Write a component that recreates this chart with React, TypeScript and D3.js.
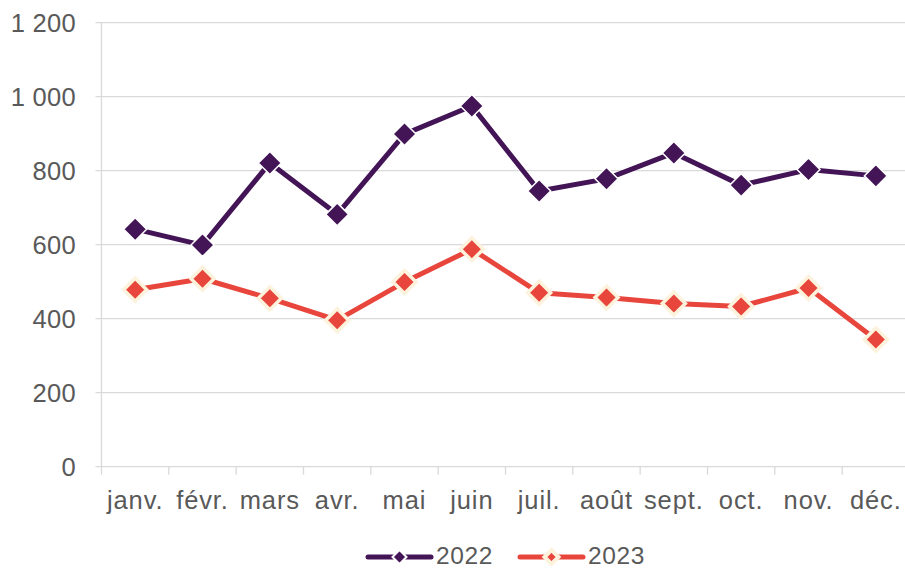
import React, { useEffect, useRef } from 'react';
import * as d3 from 'd3';

const months = ['janv.', 'févr.', 'mars', 'avr.', 'mai', 'juin', 'juil.', 'août', 'sept.', 'oct.', 'nov.', 'déc.'];
const values2022 = [642, 599, 821, 682, 899, 975, 745, 778, 848, 761, 803, 786];
const values2023 = [478, 508, 455, 396, 499, 588, 470, 457, 441, 433, 483, 344];
const yTicks = [0, 200, 400, 600, 800, 1000, 1200];
const seriesNames = ['2022', '2023'];

const W = 905;
const H = 569;

const App = () => {
    const ref = useRef<SVGSVGElement>(null);

    useEffect(() => {
        const svg = d3.select(ref.current);
        svg.selectAll('*').remove();

        const left = 101.5;
        const right = 909.5;
        const top = 22.7;
        const bottom = 466.7;
        const font = 'Arial, "Liberation Sans", sans-serif';
        const textColor = '#595959';
        const gridColor = '#d9d9d9';

        const x = d3.scaleBand().domain(months).range([left, right]);
        const y = d3.scaleLinear().domain([0, 1200]).range([bottom, top]);
        const cx = (m: string) => (x(m) as number) + x.bandwidth() / 2;

        const fmt = (v: number) => d3.format(',')(v).replace(/,/g, ' ');

        // grid
        svg.append('g')
            .selectAll('line')
            .data(yTicks.filter(t => t > 0))
            .enter().append('line')
            .attr('x1', left - 6)
            .attr('x2', W)
            .attr('y1', d => y(d))
            .attr('y2', d => y(d))
            .attr('stroke', gridColor)
            .attr('stroke-width', 1.3);

        // axes
        svg.append('line')
            .attr('x1', left).attr('x2', left)
            .attr('y1', top).attr('y2', bottom)
            .attr('stroke', gridColor).attr('stroke-width', 1.3);
        svg.append('line')
            .attr('x1', left - 6).attr('x2', W)
            .attr('y1', bottom).attr('y2', bottom)
            .attr('stroke', gridColor).attr('stroke-width', 1.3);

        svg.append('g')
            .selectAll('text')
            .data(yTicks)
            .enter().append('text')
            .attr('x', 76)
            .attr('y', d => y(d))
            .attr('dy', '0.36em')
            .attr('text-anchor', 'end')
            .attr('font-family', font)
            .attr('font-size', 25.5)
            .attr('letter-spacing', 0.3)
            .attr('fill', textColor)
            .text(d => fmt(d));

        // x ticks
        svg.append('g')
            .selectAll('line')
            .data(months)
            .enter().append('line')
            .attr('x1', d => x(d) as number)
            .attr('x2', d => x(d) as number)
            .attr('y1', bottom)
            .attr('y2', bottom + 8)
            .attr('stroke', gridColor)
            .attr('stroke-width', 1.3);

        svg.append('g')
            .selectAll('text')
            .data(months)
            .enter().append('text')
            .attr('x', d => cx(d))
            .attr('y', 509)
            .attr('text-anchor', 'middle')
            .attr('font-family', font)
            .attr('font-size', 25.5)
            .attr('letter-spacing', 0.9)
            .attr('fill', textColor)
            .text(d => d);

        const series = [
            { name: seriesNames[0], values: values2022, color: '#431556', outline: '#ffffff', ow: 1.5 },
            { name: seriesNames[1], values: values2023, color: '#e8463c', outline: '#fdf2dc', ow: 3.5 },
        ];

        const diamond = (px: number, py: number, r: number) =>
            `M${px},${py - r}L${px + r},${py}L${px},${py + r}L${px - r},${py}Z`;

        series.forEach(s => {
            const pts = months.map((m, i) => [cx(m), y(s.values[i])] as [number, number]);
            svg.append('path')
                .datum(pts)
                .attr('fill', 'none')
                .attr('stroke', s.color)
                .attr('stroke-width', 5)
                .attr('stroke-linejoin', 'round')
                .attr('d', d3.line());
            svg.append('g')
                .selectAll('path')
                .data(pts)
                .enter().append('path')
                .attr('d', d => diamond(d[0], d[1], 11.5))
                .attr('fill', s.color)
                .attr('stroke', s.outline)
                .attr('stroke-width', s.ow);
        });

        // legend
        const legendY = 557;
        const legendX = [368, 520];
        series.forEach((s, i) => {
            const lx = legendX[i];
            const g = svg.append('g');
            g.append('line')
                .attr('x1', lx).attr('x2', lx + 63)
                .attr('y1', legendY).attr('y2', legendY)
                .attr('stroke', s.color)
                .attr('stroke-width', 5)
                .attr('stroke-linecap', 'round');
            g.append('path')
                .attr('d', diamond(lx + 31.5, legendY, 7))
                .attr('fill', s.color)
                .attr('stroke', s.outline)
                .attr('stroke-width', s.ow + 0.5);
            g.append('text')
                .attr('x', lx + 68)
                .attr('y', 564)
                .attr('font-family', font)
                .attr('font-size', 24.5)
                .attr('letter-spacing', 0.6)
                .attr('fill', textColor)
                .text(s.name);
        });
    }, []);

    return <svg ref={ref} width={W} height={H} style={{ position: 'absolute', left: 0, top: 0, background: '#fff' }} />;
};

export default App;
